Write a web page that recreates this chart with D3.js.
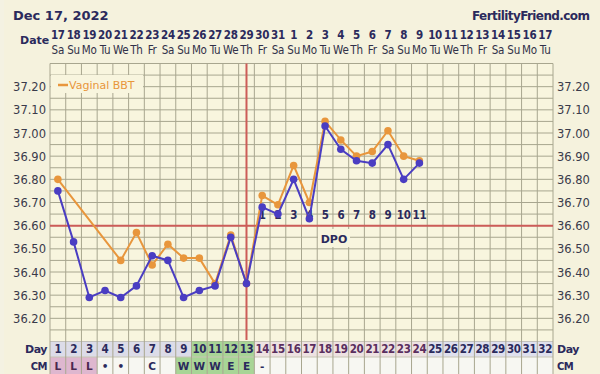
<!DOCTYPE html>
<html>
<head>
<meta charset="utf-8">
<script src="https://cdn.jsdelivr.net/npm/d3@7"></script>
<style>
  body { margin: 0; background: #f4f2e2; }
  svg { display: block; font-family: "DejaVu Sans", Verdana, sans-serif; }
  .cond { font-family: "DejaVu Sans Condensed", "DejaVu Sans", sans-serif; font-stretch: condensed; }
</style>
</head>
<body>
<script>
const width = 600
const height = 374

// chart data
const days = d3.range(1, 33);
const dates = ["17","18","19","20","21","22","23","24","25","26","27","28","29","30","31",
               "1","2","3","4","5","6","7","8","9","10","11","12","13","14","15","16","17"];
const weekdays = ["Sa","Su","Mo","Tu","We","Th","Fr","Sa","Su","Mo","Tu","We","Th","Fr","Sa","Su",
                  "Mo","Tu","We","Th","Fr","Sa","Su","Mo","Tu","We","Th","Fr","Sa","Su","Mo","Tu"];
const bbtTemps = [36.75, 36.53, 36.29, 36.32, 36.29, 36.34, 36.47, 36.45, 36.29, 36.32, 36.34, 36.55,
                  36.35, 36.68, 36.65, 36.80, 36.63, 37.03, 36.93, 36.88, 36.87, 36.95, 36.80, 36.87];
const vaginalTemps = [36.80, null, null, null, 36.45, 36.57, 36.43, 36.52, 36.46, 36.46, 36.35, 36.56,
                      36.35, 36.73, 36.69, 36.86, 36.70, 37.05, 36.97, 36.90, 36.92, 37.01, 36.90, 36.88];
const cmCodes = ["L","L","L","•","•","","C","","W","W","W","E","E","-"];
const dpoLabels = ["1","2","3","4","5","6","7","8","9","10","11"];
const yTicks = [36.2, 36.3, 36.4, 36.5, 36.6, 36.7, 36.8, 36.9, 37.0, 37.1, 37.2];
const coverline = 36.60;
const ovulationDay = 13;

const navy = "#2b2a5c";
const gridColor = "#a8a68f";
const blue = "#4a3dc2";
const orange = "#e8963c";
const red = "#cc5c58";

const svg = d3.select("body").append("svg")
    .attr("width", width)
    .attr("height", height);

svg.append("rect").attr("x", 4).attr("width", width - 4).attr("height", height).attr("fill", "#f5f2dd");

const plotTop = 63.5, plotBottom = 341.5;

const x = d3.scaleBand()
    .domain(days)
    .range([50, 553]);
const cx = d => x(d) + x.bandwidth() / 2;

const y = d3.scaleLinear()
    .domain([36.1, 37.3])
    .range([plotBottom, plotTop]);

// plot background
svg.append("rect")
    .attr("x", 50).attr("y", plotTop)
    .attr("width", 503).attr("height", plotBottom - plotTop)
    .attr("fill", "#f8f5de");

// header texts
svg.append("text").attr("x", 13).attr("y", 20)
    .attr("font-size", 13).attr("font-weight", "bold").attr("fill", navy)
    .text("Dec 17, 2022");
svg.append("text").attr("x", 590).attr("y", 20).attr("text-anchor", "end")
    .attr("font-size", 12).attr("font-weight", "bold").attr("fill", navy)
    .attr("textLength", 118)
    .text("FertilityFriend.com");
svg.append("text").attr("x", 20).attr("y", 44)
    .attr("font-size", 11).attr("font-weight", "bold").attr("fill", navy)
    .text("Date");

svg.selectAll(".date").data(days).enter().append("text")
    .attr("class", "cond")
    .attr("x", d => cx(d)).attr("y", 39)
    .attr("text-anchor", "middle").attr("font-size", 11.5).attr("font-weight", "bold")
    .attr("letter-spacing", -0.3).attr("fill", navy)
    .text(d => dates[d - 1]);

svg.selectAll(".wday").data(days).enter().append("text")
    .attr("class", "cond")
    .attr("x", d => cx(d)).attr("y", 54)
    .attr("text-anchor", "middle").attr("font-size", 11.5)
    .attr("letter-spacing", -0.2).attr("fill", "#303048")
    .text(d => weekdays[d - 1]);

// grid
const hLines = d3.range(0, 25).map(i => 36.1 + i * 0.05);
svg.selectAll(".hgrid").data(hLines).enter().append("line")
    .attr("x1", 50).attr("x2", 553)
    .attr("y1", d => y(d)).attr("y2", d => y(d))
    .attr("stroke", gridColor).attr("stroke-width", 1);

// day / cm rows
const dayRowTop = plotBottom, cmRowTop = 357, rowBottom = 374;
const dayBg = d => d <= 9 ? "#dcdce8" : d <= 13 ? "#a8d596" : d <= 24 ? "#eee2e2" : "#dfe0ee";
const dayFg = d => d >= 14 && d <= 24 ? "#5a2e5e" : navy;
const cmBg = d => d <= 3 ? "#deb7cf" : d <= 8 ? "#f7f7f2" : d <= 13 ? "#a8d596" : "#f7f7f2";

svg.selectAll(".daycell").data(days).enter().append("rect")
    .attr("x", d => x(d)).attr("y", dayRowTop)
    .attr("width", x.bandwidth()).attr("height", cmRowTop - dayRowTop)
    .attr("fill", dayBg);
svg.selectAll(".cmcell").data(days).enter().append("rect")
    .attr("x", d => x(d)).attr("y", cmRowTop)
    .attr("width", x.bandwidth()).attr("height", rowBottom - cmRowTop)
    .attr("fill", cmBg);
svg.append("line").attr("x1", 50).attr("x2", 553).attr("y1", cmRowTop).attr("y2", cmRowTop)
    .attr("stroke", "#c8c6b4");

svg.selectAll(".vgrid").data(d3.range(0, 33)).enter().append("line")
    .attr("x1", i => 50 + i * x.bandwidth()).attr("x2", i => 50 + i * x.bandwidth())
    .attr("y1", plotTop).attr("y2", rowBottom)
    .attr("stroke", gridColor).attr("stroke-width", 1);

svg.selectAll(".daynum").data(days).enter().append("text")
    .attr("class", "cond")
    .attr("x", d => cx(d)).attr("y", 353)
    .attr("text-anchor", "middle").attr("font-size", 11.5).attr("font-weight", "bold")
    .attr("letter-spacing", -0.4).attr("fill", dayFg)
    .text(d => d);
svg.selectAll(".cm").data(cmCodes).enter().append("text")
    .attr("x", (d, i) => cx(i + 1)).attr("y", 370)
    .attr("text-anchor", "middle").attr("font-size", 10.5).attr("font-weight", "bold")
    .attr("fill", (d, i) => i < 3 ? "#4a2850" : navy)
    .text(d => d);

[["Day", 353, 11], ["CM", 370, 10]].forEach(([t, yy, fs]) => {
    svg.append("text").attr("x", 47).attr("y", yy).attr("text-anchor", "end")
        .attr("font-size", fs).attr("font-weight", "bold").attr("letter-spacing", -0.5)
        .attr("fill", navy).text(t);
    svg.append("text").attr("x", 557).attr("y", yy)
        .attr("font-size", fs).attr("font-weight", "bold").attr("letter-spacing", -0.5)
        .attr("fill", navy).text(t);
});

// y axis labels
svg.selectAll(".ylab").data(yTicks).enter().append("text")
    .attr("x", 46).attr("y", d => y(d) + 4.5).attr("text-anchor", "end")
    .attr("font-size", 11.5).attr("fill", "#3a3a4a")
    .text(d => d.toFixed(2));
svg.selectAll(".yrlab").data(yTicks).enter().append("text")
    .attr("x", 557).attr("y", d => y(d) + 4.5)
    .attr("font-size", 11.5).attr("fill", "#3a3a4a")
    .text(d => d.toFixed(2));

// coverline and ovulation line
svg.append("line")
    .attr("x1", 50).attr("x2", 553)
    .attr("y1", y(coverline)).attr("y2", y(coverline))
    .attr("stroke", red).attr("stroke-width", 2);
svg.append("line")
    .attr("x1", cx(ovulationDay)).attr("x2", cx(ovulationDay))
    .attr("y1", plotTop).attr("y2", 340)
    .attr("stroke", red).attr("stroke-width", 2);

// legend
svg.append("rect").attr("x", 51).attr("y", 75).attr("width", 92).attr("height", 18)
    .attr("fill", "#f8f5de");
svg.append("line").attr("x1", 58).attr("x2", 68).attr("y1", 85).attr("y2", 85)
    .attr("stroke", orange).attr("stroke-width", 2.5);
svg.append("text").attr("x", 69).attr("y", 88.5)
    .attr("font-size", 11).attr("fill", orange).text("Vaginal BBT");

// DPO labels
svg.append("rect").attr("x", 318).attr("y", 229).attr("width", 32).attr("height", 18)
    .attr("fill", "#f8f5de");
svg.append("text").attr("x", 334).attr("y", 242.5).attr("text-anchor", "middle")
    .attr("font-size", 11).attr("font-weight", "bold").attr("fill", navy).text("DPO");
svg.selectAll(".dpo").data(dpoLabels).enter().append("text")
    .attr("class", "cond")
    .attr("x", (d, i) => cx(i + 14)).attr("y", 219)
    .attr("text-anchor", "middle").attr("font-size", 11.5).attr("font-weight", "bold")
    .attr("letter-spacing", -0.4).attr("fill", navy)
    .text(d => d);

// series
const line = d3.line()
    .defined(d => d.t !== null)
    .x(d => cx(d.day))
    .y(d => y(d.t));

function drawSeries(temps, color) {
    const pts = temps.map((t, i) => ({ day: i + 1, t: t }));
    const valid = pts.filter(p => p.t !== null);
    svg.append("path")
        .datum(valid)
        .attr("d", line)
        .attr("fill", "none")
        .attr("stroke", color)
        .attr("stroke-width", 2);
    svg.selectAll(null).data(valid).enter().append("circle")
        .attr("cx", d => cx(d.day)).attr("cy", d => y(d.t))
        .attr("r", 3.8).attr("fill", color);
}

drawSeries(vaginalTemps, orange);
drawSeries(bbtTemps, blue);
</script>
</body>
</html>
